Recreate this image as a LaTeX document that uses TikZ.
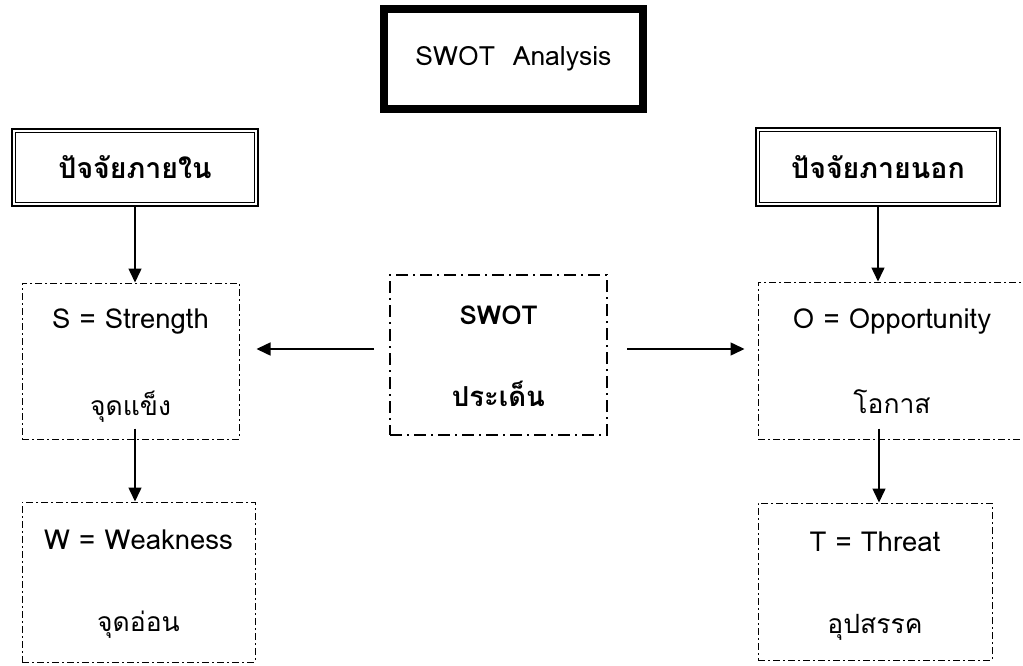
\documentclass[tikz,border=0pt]{standalone}
\usepackage{fontspec}
\setmainfont[Script=Thai]{Loma}
\usetikzlibrary{arrows.meta}
\begin{document}
\begin{tikzpicture}[x=1pt,y=-1pt,
  dashbox/.style={draw, line width=1pt, dash pattern=on 7pt off 3pt on 2pt off 3pt, inner sep=0pt},
  centerbox/.style={draw, line width=2pt, dash pattern=on 12pt off 5pt on 2pt off 5pt, inner sep=0pt},
  headbox/.style={draw, line width=2.5pt, inner sep=0pt, font=\fontsize{28.5}{32}\selectfont\bfseries},
  titlebox/.style={draw, line width=8pt, inner sep=0pt, font=\fontsize{26.5}{30}\selectfont},
  txt/.style={font=\fontsize{27.5}{32}\selectfont, inner sep=0pt},
  ttxt/.style={font=\fontsize{26.5}{30}\selectfont, inner sep=0pt},
  btxt/.style={font=\fontsize{26}{30}\selectfont\bfseries, inner sep=0pt},
  bttxt/.style={font=\fontsize{27.5}{30}\selectfont\bfseries, inner sep=0pt},
  arr/.style={line width=1.5pt, -{Triangle[length=14pt,width=13pt]}}]
\useasboundingbox (0,0) rectangle (1023,666);
% title
\node[titlebox, minimum width=259pt, minimum height=100pt] (title) at (513.5,59) {SWOT~~Analysis};
\draw[line width=1.5pt] ([shift={(7.5,7.5)}]title.north west) rectangle ([shift={(-7.5,-7.5)}]title.south east);
% headers
\node[headbox, minimum width=246pt, minimum height=77pt] (lh) at (135,167.5) {ปัจจัยภายใน};
\draw[line width=1.2pt] ([shift={(4.5,4.5)}]lh.north west) rectangle ([shift={(-4.5,-4.5)}]lh.south east);
\node[headbox, minimum width=244pt, minimum height=78pt] (rh) at (878,167) {ปัจจัยภายนอก};
\draw[line width=1.2pt] ([shift={(4.5,4.5)}]rh.north west) rectangle ([shift={(-4.5,-4.5)}]rh.south east);
% boxes
\node[dashbox, minimum width=217pt, minimum height=156pt] (s) at (130.5,361) {};
\node[txt] (s1) at (130.5,322) {S = Strength};
\node[ttxt] (s2) at (130.5,407) {จุดแข็ง};
\node[dashbox, minimum width=233pt, minimum height=160pt] (w) at (138.5,582) {};
\node[txt] (w1) at (138.5,540) {W = Weakness};
\node[ttxt] (w2) at (138.5,625) {จุดอ่อน};
\node[dashbox, minimum width=268pt, minimum height=157pt] (o) at (892,360.5) {};
\node[txt] (o1) at (892,322) {O = Opportunity};
\node[ttxt] (o2) at (892,402) {โอกาส};
\node[dashbox, minimum width=234pt, minimum height=157pt] (t) at (875,581.5) {};
\node[txt] (t1) at (875,542) {T = Threat};
\node[ttxt] (t2) at (875,627) {อุปสรรค};
\node[centerbox, minimum width=217pt, minimum height=160pt] (c) at (498.5,355) {};
\node[btxt] (c1) at (498.5,315) {SWOT};
\node[bttxt] (c2) at (498.5,394) {ประเด็น};
% arrows
\draw[arr] (lh.south) -- (lh.south |- s.north);
\draw[arr] (rh.south) -- (rh.south |- o.north);
\coordinate (sw) at ([shift={(4.5,-11)}]s.south);
\draw[arr] (sw) -- (sw |- w.north);
\coordinate (ot) at ([shift={(-13,-11)}]o.south);
\draw[arr] (ot) -- (ot |- t.north);
\coordinate (cl) at ([shift={(-15,-6)}]c.west);
\coordinate (sl) at ([xshift=17pt]s.east);
\draw[arr] (cl) -- (cl -| sl);
\coordinate (cr) at ([shift={(19,-6)}]c.east);
\coordinate (orr) at ([xshift=-13pt]o.west);
\draw[arr] (cr) -- (cr -| orr);
\end{tikzpicture}
\end{document}
